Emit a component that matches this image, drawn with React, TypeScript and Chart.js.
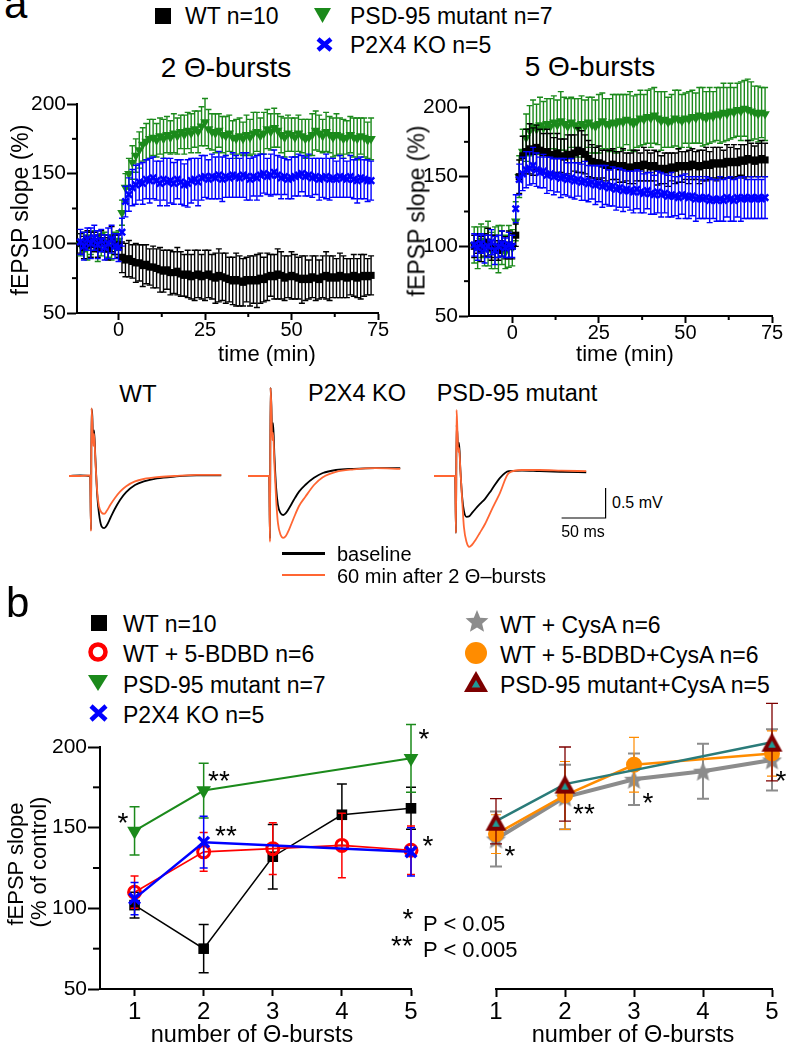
import React, { useEffect, useRef } from 'react';
import { Chart, registerables } from 'chart.js';

Chart.register(...registerables);

const FONT = '"Liberation Sans", Arial, Helvetica, sans-serif';
Chart.defaults.font.family = FONT;
Chart.defaults.color = '#000';

// ================= Panel a: time courses (x = minutes) =================
const timeMin = [
  -11, -10, -9, -8, -7, -6, -5, -4, -3, -2, -1, 0,
  1, 2, 3, 4, 5, 6, 7, 8, 9, 10,
  11, 12, 13, 14, 15, 16, 17, 18, 19, 20,
  21, 22, 23, 24, 25, 26, 27, 28, 29, 30,
  31, 32, 33, 34, 35, 36, 37, 38, 39, 40,
  41, 42, 43, 44, 45, 46, 47, 48, 49, 50,
  51, 52, 53, 54, 55, 56, 57, 58, 59, 60,
  61, 62, 63, 64, 65, 66, 67, 68, 69, 70,
  71, 72, 73,
];

// 2 theta-bursts
const wt2 = [
  100, 97, 103, 99, 101, 98, 102, 100, 96, 103, 99, 98,
  90, 88, 89, 87, 86, 86, 84, 85, 83, 83,
  82, 81, 80, 81, 79, 79, 80, 78, 77, 78,
  76, 77, 78, 76, 77, 78, 76, 75, 77, 76,
  75, 74, 73, 74, 73, 72, 74, 73, 74, 73,
  75, 74, 76, 77, 76, 78, 77, 75, 76, 77,
  76, 75, 74, 75, 74, 76, 75, 74, 76, 77,
  75, 76, 75, 77, 76, 75, 76, 77, 75, 76,
  77, 76, 77,
];
const wt2Err = [
  7, 8, 6, 9, 7, 8, 7, 6, 8, 9, 7, 8,
  11, 12, 13, 12, 14, 13, 15, 14, 13, 15,
  14, 16, 15, 14, 16, 15, 17, 16, 15, 17,
  16, 18, 17, 16, 18, 17, 16, 18, 19, 17,
  18, 16, 17, 19, 18, 17, 16, 18, 17, 19,
  18, 16, 17, 15, 16, 18, 17, 16, 15, 17,
  16, 15, 17, 16, 14, 15, 16, 14, 15, 17,
  16, 15, 14, 16, 15, 14, 13, 15, 14, 16,
  15, 13, 14,
];
const psd2 = [
  99, 101, 97, 100, 102, 96, 99, 101, 98, 97, 100, 102,
  122, 140, 150, 158, 163, 167, 171, 173, 175, 176,
  174, 177, 175, 178, 176, 179, 177, 180, 178, 181,
  179, 182, 180, 184, 187, 182, 180, 179, 181, 178,
  177, 179, 176, 175, 177, 175, 178, 176, 179, 180,
  177, 179, 182, 180, 183, 181, 178, 176, 179, 178,
  176, 179, 177, 175, 176, 178, 181, 179, 177, 180,
  178, 176, 178, 177, 175, 176, 178, 176, 175, 177,
  176, 174, 175,
];
const psd2Err = [
  8, 7, 9, 8, 7, 9, 8, 7, 8, 9, 8, 7,
  9, 10, 11, 12, 12, 13, 12, 13, 14, 13,
  12, 13, 14, 13, 12, 14, 13, 12, 14, 13,
  14, 13, 15, 14, 17, 14, 13, 14, 12, 13,
  14, 13, 12, 14, 13, 12, 14, 13, 15, 14,
  13, 15, 14, 13, 14, 12, 13, 14, 13, 12,
  14, 13, 12, 14, 13, 15, 14, 13, 12, 14,
  13, 14, 15, 13, 14, 12, 13, 14, 15, 13,
  14, 13, 15,
];
const p2x4_2 = [
  101, 98, 103, 100, 104, 99, 102, 97, 100, 103, 98, 97,
  108, 130, 135, 140, 142, 144, 143, 146, 145, 147,
  145, 143, 146, 144, 145, 143, 146, 144, 142, 143,
  145, 146, 144, 147, 148, 146, 148, 147, 149, 146,
  148, 147, 149, 148, 147, 149, 148, 146, 148, 147,
  149, 150, 148, 149, 151, 149, 147, 148, 146, 147,
  148, 149, 150, 148, 149, 147, 148, 146, 147, 148,
  146, 147, 146, 148, 147, 146, 148, 146, 145, 147,
  146, 145, 145,
];
const p2x4_2Err = [
  9, 10, 8, 11, 9, 10, 8, 9, 11, 10, 9, 10,
  10, 11, 12, 13, 14, 13, 15, 14, 16, 15,
  14, 16, 15, 17, 16, 15, 14, 16, 15, 17,
  16, 15, 17, 16, 15, 14, 16, 15, 17, 16,
  15, 14, 16, 15, 14, 16, 17, 15, 14, 16,
  15, 14, 13, 15, 16, 14, 15, 13, 14, 15,
  14, 15, 13, 14, 15, 14, 13, 15, 14, 16,
  15, 14, 13, 15, 14, 13, 15, 14, 16, 15,
  14, 15, 14,
];

// 5 theta-bursts
const wt5 = [
  100, 102, 98, 101, 103, 99, 100, 97, 102, 99, 101, 100,
  108, 150, 165, 168, 170, 168, 171, 169, 167, 168,
  166, 165, 167, 165, 164, 166, 165, 167, 169, 168,
  166, 163, 161, 160, 160, 159, 158, 157, 159, 158,
  157, 158, 157, 156, 157, 158, 157, 159, 158, 157,
  158, 156, 155, 156, 155, 157, 156, 158, 157, 158,
  157, 159, 158, 157, 158, 159, 158, 160, 159, 160,
  159, 161, 160, 161, 160, 162, 161, 163, 162, 161,
  162, 163, 162,
];
const wt5Err = [
  8, 7, 9, 8, 10, 9, 8, 7, 9, 8, 10, 9,
  8, 12, 14, 16, 18, 17, 16, 15, 14, 16,
  15, 13, 14, 12, 13, 14, 15, 13, 16, 15,
  14, 13, 12, 11, 12, 10, 11, 12, 11, 10,
  11, 12, 10, 11, 12, 11, 10, 12, 11, 10,
  11, 12, 10, 11, 12, 10, 11, 12, 11, 10,
  12, 11, 10, 12, 11, 12, 10, 11, 12, 11,
  10, 12, 11, 12, 10, 11, 12, 13, 12, 11,
  12, 13, 12,
];
const psd5 = [
  101, 99, 104, 100, 102, 97, 99, 98, 101, 96, 100, 99,
  118, 150, 168, 178, 183, 186, 184, 187, 185, 188,
  186, 189, 187, 190, 188, 186, 189, 187, 185, 188,
  186, 189, 187, 186, 188, 190, 188, 187, 189, 188,
  190, 189, 191, 190, 188, 190, 192, 191, 193, 192,
  194, 192, 190, 191, 189, 190, 192, 191, 190, 192,
  191, 193, 192, 194, 193, 192, 194, 193, 195, 194,
  196, 195, 197, 196, 198, 197, 199, 198, 197, 196,
  195, 196, 195,
];
const psd5Err = [
  13, 15, 12, 14, 16, 13, 15, 17, 14, 12, 15, 13,
  14, 15, 16, 17, 18, 19, 18, 20, 19, 18,
  20, 19, 18, 21, 19, 20, 18, 19, 21, 20,
  19, 18, 20, 19, 21, 20, 18, 19, 20, 21,
  19, 20, 18, 21, 20, 19, 20, 18, 19, 21,
  20, 19, 21, 20, 18, 19, 20, 21, 19, 18,
  20, 19, 18, 20, 21, 19, 20, 18, 19, 20,
  21, 19, 20, 18, 19, 21, 20, 22, 21, 19,
  20, 18, 19,
];
const p2x4_5 = [
  101, 99, 102, 98, 100, 103, 97, 100, 102, 99, 101, 100,
  127, 148, 152, 155, 156, 158, 155, 153, 154, 151,
  152, 150, 151, 149, 150, 148, 149, 147, 148, 146,
  147, 145, 146, 144, 145, 143, 144, 142, 143, 141,
  142, 140, 141, 140, 139, 141, 139, 138, 140, 138,
  137, 139, 137, 138, 136, 137, 136, 135, 137, 136,
  135, 136, 134, 135, 134, 135, 133, 134, 133, 134,
  133, 135, 134, 133, 135, 134, 135, 134, 135, 134,
  135, 134, 135,
];
const p2x4_5Err = [
  8, 9, 7, 10, 8, 9, 10, 8, 9, 7, 9, 8,
  10, 11, 12, 13, 12, 13, 12, 11, 12, 13,
  12, 13, 12, 14, 13, 12, 14, 13, 12, 13,
  14, 13, 12, 14, 13, 15, 14, 13, 14, 15,
  14, 15, 13, 14, 15, 14, 15, 14, 13, 15,
  14, 15, 16, 14, 15, 16, 14, 15, 14, 16,
  15, 14, 16, 15, 14, 15, 16, 14, 15, 16,
  15, 14, 16, 15, 14, 16, 15, 14, 15, 14,
  15, 14, 15,
];

const aXTicks = [0, 25, 50, 75];
const aXMinor = [12.5, 37.5, 62.5];
const aYTicks = [50, 100, 150, 200];
const aYMinor = [75, 125, 175];

// ================= Panel a: example traces (x = ms, y = mV) =================
const traceMs = [-25, -12, -1, 0, 0.6, 1.5, 2.5, 3.5, 5, 7, 9, 12, 15, 18, 22, 27, 33, 40, 50, 60, 75, 95, 120, 148];
const wtBaseline = [0, 0.01, 0, -0.9, 1.12, 1.0, 0.55, 0.76, 0.3, -0.3, -0.62, -0.84, -0.87, -0.82, -0.7, -0.55, -0.4, -0.27, -0.15, -0.09, -0.04, -0.01, 0.01, 0.01];
const wtAfter = [0, 0, 0.01, -0.92, 1.13, 0.9, 0.5, 0.7, 0.25, -0.25, -0.5, -0.61, -0.63, -0.58, -0.48, -0.37, -0.26, -0.17, -0.09, -0.05, -0.02, 0, 0.02, 0.02];
const p2x4Baseline = [0, 0, 0, -1.05, 1.47, 1.2, 0.7, 0.88, 0.35, -0.2, -0.48, -0.62, -0.65, -0.62, -0.53, -0.4, -0.26, -0.15, -0.03, 0.05, 0.1, 0.12, 0.13, 0.13];
const p2x4After = [0, 0, 0, -1.1, 1.47, 1.15, 0.6, 0.72, 0.2, -0.4, -0.78, -0.98, -1.03, -1.0, -0.88, -0.7, -0.5, -0.35, -0.15, -0.02, 0.07, 0.11, 0.13, 0.12];
const psdBaseline = [0, 0, 0, -0.95, 0.85, 0.72, 0.45, 0.55, 0.1, -0.35, -0.58, -0.68, -0.67, -0.62, -0.55, -0.47, -0.38, -0.24, -0.03, 0.08, 0.09, 0.08, 0.07, 0.06];
const psdAfter = [0, 0, 0, -0.95, 1.1, 0.8, 0.4, 0.47, 0.1, -0.4, -0.85, -1.1, -1.18, -1.15, -1.07, -0.95, -0.8, -0.58, -0.28, 0.05, 0.1, 0.1, 0.09, 0.08];
const scaleBarMs = [120, 170, 170];
const scaleBarMv = [-0.7, -0.7, -0.2];

// ================= Panel b: dose (number of theta-bursts) =================
const burstCounts = [1, 2, 3, 4, 5];
const wtB = [102, 75, 132, 158, 162];
const wtBErr = [8, 15, 20, 19, 13];
const bdbdB = [110, 135, 137, 139, 136];
const bdbdBErr = [10, 12, 16, 20, 15];
const psdB = [148, 173, null, null, 193];
const psdBErr = [15, 17, null, null, 21];
const p2x4B = [106, 141, null, null, 135];
const p2x4BErr = [10, 16, null, null, 15];

const cysaB = [143, 169, 180, 185, 192];
const cysaBErr = [17, 20, 16, 17, 19];
const bdbdCysaB = [146, 170, 189, null, 196];
const bdbdCysaBErr = [12, 21, 17, null, 14];
const psdCysaB = [154, 177, null, null, 203];
const psdCysaBErr = [14, 23, null, null, 24];

const bXTicks = [1, 2, 3, 4, 5];
const bYTicks = [50, 100, 150, 200];
const bYMinor = [75, 125, 175];

const C = {
  black: '#000000',
  green: '#1b8a1b',
  blue: '#0000ff',
  red: '#ff0000',
  gray: '#8c8c8c',
  orange: '#ff8c00',
  maroon: '#7d0000',
  teal: '#2a7b79',
  tealFill: '#1f9a96',
  traceOrange: '#ff6633',
};

const pts = (xs: number[], ys: (number | null)[]) => xs.map((x, i) => ({ x, y: ys[i] }));

// ---------- plugins ----------
const errorBarsPlugin = {
  id: 'errorBars',
  beforeDatasetDraw(chart: any, args: any) {
    const ds: any = chart.data.datasets[args.index];
    if (!ds.errors) return;
    const ys = chart.scales.y;
    const ctx = chart.ctx;
    const cap = ds.capWidth || 6;
    ctx.save();
    ctx.strokeStyle = ds.errorColor || ds.borderColor;
    ctx.lineWidth = ds.errorWidth || 1.5;
    args.meta.data.forEach((pt: any, i: number) => {
      const d = ds.data[i];
      const e = ds.errors[i];
      if (!d || d.y == null || e == null) return;
      const x = pt.x;
      const top = ys.getPixelForValue(d.y + e);
      const bot = ys.getPixelForValue(d.y - e);
      ctx.beginPath();
      ctx.moveTo(x, top);
      ctx.lineTo(x, bot);
      ctx.moveTo(x - cap / 2, top);
      ctx.lineTo(x + cap / 2, top);
      ctx.moveTo(x - cap / 2, bot);
      ctx.lineTo(x + cap / 2, bot);
      ctx.stroke();
    });
    ctx.restore();
  },
};

const minorTicksPlugin = {
  id: 'minorTicks',
  afterDraw(chart: any, _args: any, opts: any) {
    if (!opts) return;
    const ctx = chart.ctx;
    const xs = chart.scales.x;
    const ys = chart.scales.y;
    ctx.save();
    ctx.strokeStyle = '#000';
    ctx.lineWidth = 2;
    (opts.x || []).forEach((v: number) => {
      const px = xs.getPixelForValue(v);
      ctx.beginPath();
      ctx.moveTo(px, xs.top);
      ctx.lineTo(px, xs.top + opts.xLen);
      ctx.stroke();
    });
    (opts.y || []).forEach((v: number) => {
      const py = ys.getPixelForValue(v);
      ctx.beginPath();
      ctx.moveTo(ys.right, py);
      ctx.lineTo(ys.right - opts.yLen, py);
      ctx.stroke();
    });
    ctx.restore();
  },
};

function linAxis(o: any) {
  return {
    type: 'linear',
    position: o.pos,
    min: o.min,
    max: o.max,
    afterBuildTicks: (s: any) => {
      s.ticks = o.ticks.map((v: number) => ({ value: v }));
    },
    afterFit: (s: any) => {
      if (o.pos === 'left') s.width = o.size;
      else s.height = o.size;
    },
    grid: { display: true, drawOnChartArea: false, drawTicks: true, tickLength: o.tickLen, tickWidth: 2, tickColor: '#000' },
    border: { display: true, color: '#000', width: 2 },
    ticks: {
      color: '#000',
      font: { size: o.font, family: FONT, lineHeight: 1 },
      padding: o.pad,
      autoSkip: false,
      maxRotation: 0,
      minRotation: 0,
      callback: (v: any) => String(v),
    },
  };
}

function baseOptions(padding: any, scales: any, minor: any) {
  return {
    responsive: false,
    animation: false,
    events: [],
    layout: { padding },
    scales,
    plugins: { legend: { display: false }, tooltip: { enabled: false }, title: { display: false }, minorTicks: minor },
  };
}

function tcSet(ys: number[], errs: number[], color: string, extra: any) {
  return {
    type: 'line',
    data: pts(timeMin, ys),
    errors: errs,
    showLine: false,
    borderColor: color,
    backgroundColor: color,
    pointBackgroundColor: color,
    pointBorderColor: color,
    capWidth: 6,
    errorWidth: 1.4,
    clip: false,
    ...extra,
  };
}

function timeCourseConfig(wt: number[], wtE: number[], psd: number[], psdE: number[], p2: number[], p2E: number[], g: any) {
  return {
    type: 'line',
    data: {
      datasets: [
        tcSet(p2, p2E, C.blue, { pointStyle: 'crossRot', pointRadius: 4.5, pointBorderWidth: 2.5, order: 0 }),
        tcSet(wt, wtE, C.black, { pointStyle: 'rect', pointRadius: 5, pointBorderWidth: 0, order: 1 }),
        tcSet(psd, psdE, C.green, { pointStyle: 'triangle', pointRotation: 180, pointRadius: 5.5, pointBorderWidth: 0, order: 2 }),
      ],
    },
    options: baseOptions(
      g.padding,
      {
        x: linAxis({ pos: 'bottom', min: g.xMin, max: 75, ticks: aXTicks, size: g.xSize, tickLen: 7, font: 20, pad: 0 }),
        y: linAxis({ pos: 'left', min: 50, max: 200, ticks: aYTicks, size: g.ySize, tickLen: 10, font: 21, pad: 1 }),
      },
      { x: aXMinor, xLen: 4, y: aYMinor, yLen: 5 }
    ),
    plugins: [errorBarsPlugin, minorTicksPlugin],
  };
}

function traceConfig(base: number[], after: number[], xMax: number, withScaleBar: boolean) {
  const common = { pointRadius: 0, cubicInterpolationMode: 'monotone', clip: false };
  const datasets: any[] = [
    { data: pts(traceMs, after), borderColor: C.traceOrange, borderWidth: 1.8, order: 0, ...common },
    { data: pts(traceMs, base), borderColor: '#000', borderWidth: 1.8, order: 1, ...common },
  ];
  if (withScaleBar) {
    datasets.push({ data: pts(scaleBarMs, scaleBarMv), borderColor: '#000', borderWidth: 1.2, pointRadius: 0, tension: 0, clip: false, order: 2 });
  }
  return {
    type: 'line',
    data: { datasets },
    options: {
      responsive: false,
      animation: false,
      events: [],
      layout: { padding: 0 },
      scales: {
        x: { type: 'linear', min: -25, max: xMax, display: false },
        y: { type: 'linear', min: -1.4, max: 1.6, display: false },
      },
      plugins: { legend: { display: false }, tooltip: { enabled: false } },
    },
  };
}

function makeStar(R: number, color: string) {
  const s = Math.ceil(R * 2 + 2);
  const c = document.createElement('canvas');
  c.width = s;
  c.height = s;
  const g = c.getContext('2d')!;
  g.fillStyle = color;
  g.beginPath();
  for (let k = 0; k < 10; k++) {
    const r = k % 2 === 0 ? R : R * 0.45;
    const a = -Math.PI / 2 + (k * Math.PI) / 5;
    const x = s / 2 + r * Math.cos(a);
    const y = s / 2 + 1 + r * Math.sin(a);
    if (k === 0) g.moveTo(x, y);
    else g.lineTo(x, y);
  }
  g.closePath();
  g.fill();
  return c;
}

function makeTri(w: number, h: number, outer: string, inner: string) {
  const c = document.createElement('canvas');
  c.width = w + 2;
  c.height = h + 2;
  const g = c.getContext('2d')!;
  g.fillStyle = outer;
  g.beginPath();
  g.moveTo(w / 2 + 1, 1);
  g.lineTo(w + 1, h + 1);
  g.lineTo(1, h + 1);
  g.closePath();
  g.fill();
  const cx = w / 2 + 1;
  const cy = 1 + (2 * h) / 3;
  const f = 0.36;
  g.fillStyle = inner;
  g.beginPath();
  g.moveTo(cx, cy - (2 * h * f) / 3);
  g.lineTo(cx + (w * f) / 2, cy + (h * f) / 3);
  g.lineTo(cx - (w * f) / 2, cy + (h * f) / 3);
  g.closePath();
  g.fill();
  return c;
}

function bLeftConfig() {
  const common = { type: 'line', tension: 0, clip: false, spanGaps: true, errorWidth: 1.5 };
  return {
    type: 'line',
    data: {
      datasets: [
        { ...common, data: pts(burstCounts, p2x4B), errors: p2x4BErr, borderColor: C.blue, borderWidth: 2.5, pointStyle: 'crossRot', pointRadius: 7.5, pointBorderWidth: 3.5, pointBorderColor: C.blue, capWidth: 8, order: 0 },
        { ...common, data: pts(burstCounts, bdbdB), errors: bdbdBErr, borderColor: C.red, borderWidth: 1.6, pointStyle: 'circle', pointRadius: 6, pointBorderWidth: 3, pointBorderColor: C.red, pointBackgroundColor: 'rgba(255,255,255,0)', capWidth: 8, order: 1 },
        { ...common, data: pts(burstCounts, psdB), errors: psdBErr, borderColor: C.green, borderWidth: 2, pointStyle: 'triangle', pointRotation: 180, pointRadius: 8.5, pointBorderWidth: 0, pointBackgroundColor: C.green, capWidth: 10, order: 2 },
        { ...common, data: pts(burstCounts, wtB), errors: wtBErr, borderColor: C.black, borderWidth: 1.5, pointStyle: 'rect', pointRadius: 7.5, pointBorderWidth: 0, pointBackgroundColor: C.black, capWidth: 10, order: 3 },
      ],
    },
    options: baseOptions(
      { left: 0, top: 57, right: 29, bottom: 0 },
      {
        x: linAxis({ pos: 'bottom', min: 0.5, max: 5, ticks: bXTicks, size: 41, tickLen: 7, font: 24, pad: 4 }),
        y: linAxis({ pos: 'left', min: 50, max: 200, ticks: bYTicks, size: 100, tickLen: 12, font: 21, pad: 1 }),
      },
      { x: [], xLen: 0, y: bYMinor, yLen: 7 }
    ),
    plugins: [errorBarsPlugin, minorTicksPlugin],
  };
}

function bRightConfig() {
  const common = { type: 'line', tension: 0, clip: false, spanGaps: true };
  const tri = makeTri(21, 19, C.maroon, C.tealFill);
  const star = makeStar(10.5, C.gray);
  return {
    type: 'line',
    data: {
      datasets: [
        { ...common, data: pts(burstCounts, psdCysaB), errors: psdCysaBErr, errorColor: C.maroon, errorWidth: 1.3, capWidth: 12, borderColor: C.teal, borderWidth: 2.5, pointStyle: tri, pointRadius: 10, order: 0 },
        { ...common, data: pts(burstCounts, bdbdCysaB), errors: bdbdCysaBErr, errorColor: C.orange, errorWidth: 1.2, capWidth: 10, borderColor: C.orange, borderWidth: 2.5, pointStyle: 'circle', pointRadius: 8, pointBorderWidth: 0, pointBackgroundColor: C.orange, order: 1 },
        { ...common, data: pts(burstCounts, cysaB), errors: cysaBErr, errorColor: C.gray, errorWidth: 2, capWidth: 12, borderColor: C.gray, borderWidth: 4, pointStyle: star, pointRadius: 10, order: 2 },
      ],
    },
    options: baseOptions(
      { left: 56, top: 57, right: 15, bottom: 0 },
      {
        x: linAxis({ pos: 'bottom', min: 1, max: 5, ticks: bXTicks, size: 41, tickLen: 8, font: 24, pad: 3 }),
        y: { type: 'linear', min: 50, max: 200, display: false },
      },
      null
    ),
    plugins: [errorBarsPlugin],
  };
}

// ---------- components ----------
function ChartBox({ left, top, width, height, make }: any) {
  const ref = useRef<HTMLCanvasElement>(null);
  useEffect(() => {
    const chart = new Chart(ref.current as HTMLCanvasElement, make());
    return () => chart.destroy();
  }, []);
  return <canvas ref={ref} width={width} height={height} style={{ position: 'absolute', left, top, width, height }} />;
}

function T({ x, y, s, a = 'left', children }: any) {
  return (
    <div
      style={{
        position: 'absolute',
        left: x,
        top: y - 0.8465 * s,
        fontSize: s,
        lineHeight: `${s}px`,
        fontFamily: FONT,
        color: '#000',
        whiteSpace: 'nowrap',
        transform: a === 'center' ? 'translateX(-50%)' : undefined,
      }}
    >
      {children}
    </div>
  );
}

function RT({ cx, cy, s, children }: any) {
  return (
    <div
      style={{
        position: 'absolute',
        left: cx,
        top: cy,
        fontSize: s,
        lineHeight: `${s}px`,
        fontFamily: FONT,
        color: '#000',
        whiteSpace: 'nowrap',
        transform: 'translate(-50%, -50%) rotate(-90deg)',
      }}
    >
      {children}
    </div>
  );
}

function Ast({ cx, cy, t }: any) {
  const s = 28;
  return (
    <div
      style={{
        position: 'absolute',
        left: cx,
        top: cy + 0.573 * s - 0.8465 * s,
        fontSize: s,
        lineHeight: `${s}px`,
        fontFamily: FONT,
        color: '#000',
        whiteSpace: 'nowrap',
        transform: 'translateX(-50%)',
      }}
    >
      {t}
    </div>
  );
}

function Mk({ cx, cy, w, h, children }: any) {
  return (
    <svg width={w} height={h} style={{ position: 'absolute', left: cx - w / 2, top: cy - h / 2, overflow: 'visible' }}>
      {children}
    </svg>
  );
}

const starPoints = (w: number) => {
  const R = w / 2;
  const out: string[] = [];
  for (let k = 0; k < 10; k++) {
    const r = k % 2 === 0 ? R : R * 0.45;
    const a = -Math.PI / 2 + (k * Math.PI) / 5;
    out.push(`${R + r * Math.cos(a)},${R + 1 + r * Math.sin(a)}`);
  }
  return out.join(' ');
};

const Square = ({ cx, cy, s }: any) => (
  <Mk cx={cx} cy={cy} w={s} h={s}>
    <rect x={0} y={0} width={s} height={s} fill={C.black} />
  </Mk>
);
const TriDown = ({ cx, cy, w, h }: any) => (
  <Mk cx={cx} cy={cy} w={w} h={h}>
    <polygon points={`0,0 ${w},0 ${w / 2},${h}`} fill={C.green} />
  </Mk>
);
const Cross = ({ cx, cy, w, h }: any) => (
  <Mk cx={cx} cy={cy} w={w} h={h}>
    <path d={`M2,2 L${w - 2},${h - 2} M${w - 2},2 L2,${h - 2}`} stroke={C.blue} strokeWidth={4.5} />
  </Mk>
);
const Ring = ({ cx, cy, d }: any) => (
  <Mk cx={cx} cy={cy} w={d} h={d}>
    <circle cx={d / 2} cy={d / 2} r={d / 2 - 2.5} fill="none" stroke={C.red} strokeWidth={4.5} />
  </Mk>
);
const StarMk = ({ cx, cy, d }: any) => (
  <Mk cx={cx} cy={cy} w={d} h={d}>
    <polygon points={starPoints(d)} fill={C.gray} />
  </Mk>
);
const Dot = ({ cx, cy, d }: any) => (
  <Mk cx={cx} cy={cy} w={d} h={d}>
    <circle cx={d / 2} cy={d / 2} r={d / 2} fill={C.orange} />
  </Mk>
);
const TriUp = ({ cx, cy, w, h }: any) => {
  const f = 0.36;
  const gx = w / 2;
  const gy = (2 * h) / 3;
  return (
    <Mk cx={cx} cy={cy} w={w} h={h}>
      <polygon points={`${w / 2},0 ${w},${h} 0,${h}`} fill={C.maroon} />
      <polygon points={`${gx},${gy - (2 * h * f) / 3} ${gx + (w * f) / 2},${gy + (h * f) / 3} ${gx - (w * f) / 2},${gy + (h * f) / 3}`} fill={C.tealFill} />
    </Mk>
  );
};

export default function App() {
  return (
    <div style={{ position: 'absolute', left: 0, top: 0, width: 787, height: 1046, background: '#fff', overflow: 'hidden', fontFamily: FONT }}>
      {/* ---------- panel a ---------- */}
      <T x={4} y={19} s={42}>a</T>

      <Square cx={163} cy={15.5} s={16} />
      <T x={185} y={24} s={23}>WT n=10</T>
      <TriDown cx={322} cy={15.5} w={17} h={15} />
      <T x={350} y={24} s={23}>PSD-95 mutant n=7</T>
      <Cross cx={324} cy={44.5} w={17} h={15} />
      <T x={350} y={53} s={23}>P2X4 KO n=5</T>

      <T x={226} y={78} s={28} a="center">2 Θ-bursts</T>
      <T x={590} y={77} s={28} a="center">5 Θ-bursts</T>

      <ChartBox left={0} top={75} width={395} height={275}
        make={() => timeCourseConfig(wt2, wt2Err, psd2, psd2Err, p2x4_2, p2x4_2Err, { padding: { left: 0, top: 29, right: 17, bottom: 0 }, xMin: -12, xSize: 37, ySize: 77 })} />
      <ChartBox left={390} top={75} width={397} height={275}
        make={() => timeCourseConfig(wt5, wt5Err, psd5, psd5Err, p2x4_5, p2x4_5Err, { padding: { left: 0, top: 32, right: 15, bottom: 0 }, xMin: -12.5, xSize: 34, ySize: 79 })} />

      <RT cx={20} cy={210} s={23}>fEPSP slope (%)</RT>
      <RT cx={417} cy={211} s={23}>fEPSP slope (%)</RT>
      <T x={267} y={362} s={22} a="center">time (min)</T>
      <T x={625} y={362} s={22} a="center">time (min)</T>

      {/* traces */}
      <T x={138} y={402} s={24} a="center">WT</T>
      <T x={357} y={402} s={23.5} a="center">P2X4 KO</T>
      <T x={517} y={402} s={23.5} a="center">PSD-95 mutant</T>
      <ChartBox left={69} top={380} width={154} height={180} make={() => traceConfig(wtBaseline, wtAfter, 150, false)} />
      <ChartBox left={248} top={380} width={154} height={180} make={() => traceConfig(p2x4Baseline, p2x4After, 150, false)} />
      <ChartBox left={434} top={380} width={176} height={180} make={() => traceConfig(psdBaseline, psdAfter, 175, true)} />
      <T x={612} y={509} s={16}>0.5 mV</T>
      <T x={583} y={538} s={16} a="center">50 ms</T>

      <div style={{ position: 'absolute', left: 282, top: 551.5, width: 43, height: 3.5, background: '#000' }} />
      <T x={337} y={561} s={20}>baseline</T>
      <div style={{ position: 'absolute', left: 282, top: 574, width: 43, height: 2.2, background: C.traceOrange }} />
      <T x={337} y={583} s={20}>60 min after 2 Θ–bursts</T>

      {/* ---------- panel b ---------- */}
      <T x={6} y={618} s={42}>b</T>

      <Square cx={99} cy={622.5} s={16} />
      <T x={123} y={632} s={23}>WT n=10</T>
      <Ring cx={98} cy={652} d={20} />
      <T x={123} y={662} s={23}>WT + 5-BDBD  n=6</T>
      <TriDown cx={98} cy={683} w={20} h={16} />
      <T x={123} y={693} s={23}>PSD-95 mutant n=7</T>
      <Cross cx={98} cy={712.5} w={19} h={18} />
      <T x={123} y={723} s={23}>P2X4 KO n=5</T>

      <StarMk cx={477} cy={621} d={24} />
      <T x={500} y={633} s={23}>WT + CysA n=6</T>
      <Dot cx={476} cy={653} d={22} />
      <T x={500} y={663} s={23}>WT + 5-BDBD+CysA n=6</T>
      <TriUp cx={476} cy={681} w={24} h={21} />
      <T x={500} y={693} s={23}>PSD-95 mutant+CysA n=5</T>

      <ChartBox left={0} top={690} width={440} height={340} make={bLeftConfig} />
      <ChartBox left={440} top={690} width={347} height={340} make={bRightConfig} />

      <RT cx={16} cy={864} s={22}>fEPSP slope</RT>
      <RT cx={39} cy={862} s={22}>(% of control)</RT>
      <T x={252} y={1043} s={23.5} a="center">number of Θ-bursts</T>
      <T x={633} y={1043} s={23.5} a="center">number of Θ-bursts</T>

      <Ast cx={123} cy={817} t="*" />
      <Ast cx={219} cy={775} t="**" />
      <Ast cx={226} cy={830} t="**" />
      <Ast cx={424} cy={733} t="*" />
      <Ast cx={428} cy={840} t="*" />
      <Ast cx={408} cy={913} t="*" />
      <Ast cx={402} cy={940} t="**" />
      <T x={423} y={932} s={22}>P &lt; 0.05</T>
      <T x={423} y={958} s={22}>P &lt; 0.005</T>

      <Ast cx={510} cy={850} t="*" />
      <Ast cx={584} cy={808} t="**" />
      <Ast cx={648} cy={797} t="*" />
      <Ast cx={781} cy={775} t="*" />
    </div>
  );
}
